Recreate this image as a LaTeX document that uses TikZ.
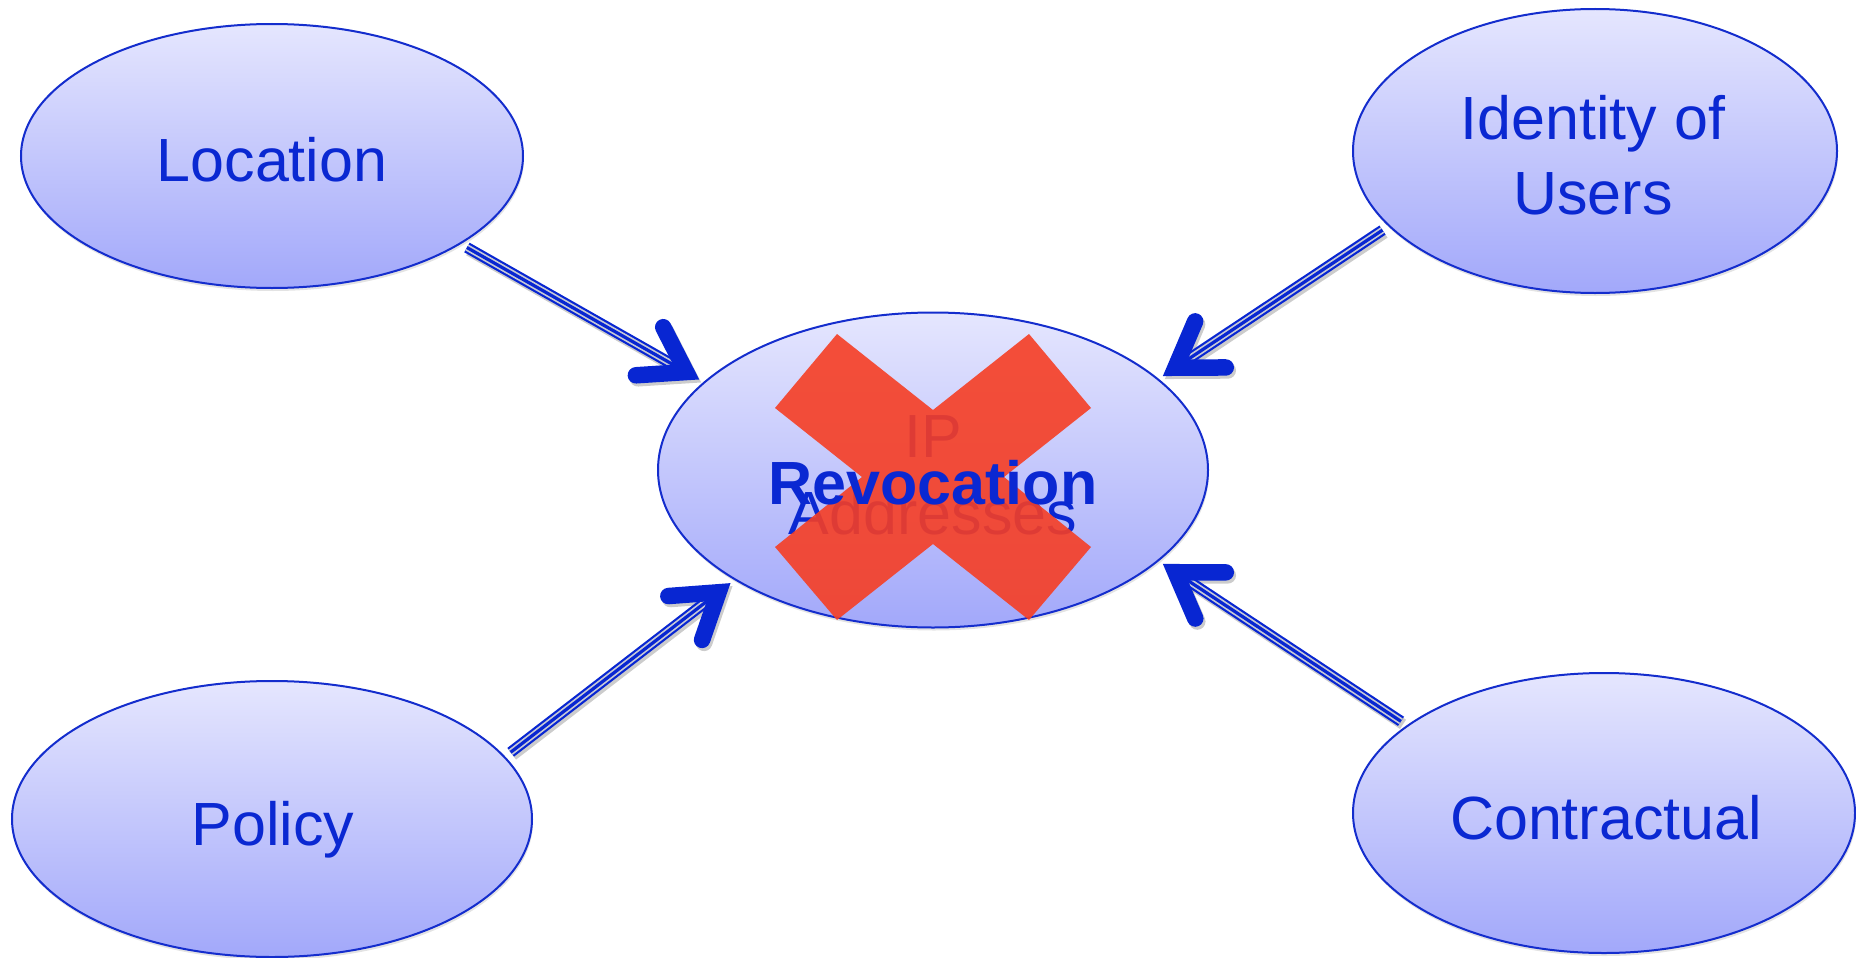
\documentclass[tikz,border=0pt]{standalone}
\usepackage{fontspec}
\setmainfont{Liberation Sans}
\usetikzlibrary{calc,shapes.geometric,shadows}
\definecolor{txtblue}{RGB}{10,40,210}
\definecolor{edgeblue}{RGB}{20,45,205}
\definecolor{topfill}{RGB}{229,230,254}
\definecolor{botfill}{RGB}{162,168,250}
\definecolor{arrblue}{RGB}{8,38,210}
\definecolor{gapgray}{RGB}{200,202,214}
\definecolor{xred}{RGB}{246,62,36}
\tikzset{
  bubble/.style={ellipse, draw=edgeblue, line width=2pt, top color=topfill, bottom color=botfill,
    inner sep=0pt, drop shadow={shadow xshift=1pt, shadow yshift=-3pt, opacity=0.22}},
  headline/.style={line width=16.5pt, line cap=round, line join=miter, arrblue},
  bigtext/.style={text=txtblue, align=center, font=\fontsize{61}{76}\selectfont, inner sep=0pt}
}
\newcommand{\myconn}[2]{%
  \coordinate (ct) at (#2);
  \coordinate (cs0) at (#1);
  \coordinate (cs) at ($(cs0)!7pt!(ct)$);
  \coordinate (cv) at ($(ct)!20pt!(cs)$);
  \coordinate (ce) at ($(ct)!26pt!(cs)$);
  \coordinate (cw1) at ($(ct)!68pt!24:(cs)$);
  \coordinate (cw2) at ($(ct)!68pt!-24:(cs)$);
  \begin{scope}[transform canvas={xshift=2pt,yshift=-3pt}, opacity=0.2]
    \draw[line width=11pt, black] (cs) -- (ce);
    \draw[headline, black] (cw1) -- (cv) -- (cw2);
  \end{scope}
  \draw[line width=11pt, arrblue] (cs) -- (ce);
  \draw[line width=6.6pt, gapgray] (cs) -- (ce);
  \draw[line width=3.2pt, arrblue] (cs) -- (ce);
  \draw[headline] (cw1) -- (cv) -- (cw2);
}
\begin{document}
\begin{tikzpicture}[x=1pt,y=-1pt]
  \useasboundingbox (0,0) rectangle (1856,958);
  \node[bubble, minimum width=502pt, minimum height=264pt] (loc) at (272,156) {};
  \node[bubble, minimum width=484pt, minimum height=284pt] (idu) at (1595,151) {};
  \node[bubble, minimum width=520pt, minimum height=276pt] (pol) at (272,819) {};
  \node[bubble, minimum width=502pt, minimum height=280pt] (con) at (1604,813) {};
  \node[bubble, minimum width=550pt, minimum height=315pt] (rev) at (933,470) {};
  \node[bigtext] (loct) at (272,160) {Location};
  \node[bigtext, font=\fontsize{61}{75}\selectfont] (idut) at (1593,155) {Identity of\\Users};
  \node[bigtext] (polt) at (273,830) {Policy};
  \node[bigtext] (cont) at (1606,818) {Contractual};
  \node[bigtext, font=\fontsize{61}{77}\selectfont] (ipt) at (933,475) {IP\\Addresses};
  \fill[xred, opacity=0.9]
    (837,334) -- (933,410) -- (1029,334) -- (1091,408) -- (1004,477) -- (1091,547)
    -- (1029,620) -- (933,544) -- (837,620) -- (775,547) -- (862,477) -- (775,408) -- cycle;
  \node[bigtext, font=\bfseries\fontsize{61}{75}\selectfont] (revt) at (933,483) {Revocation};
  \myconn{loc.335.5}{rev.159}
  \myconn{idu.200.3}{rev.22.6}
  \myconn{pol.15.2}{rev.209.9}
  \myconn{con.156.4}{rev.338}
\end{tikzpicture}
\end{document}
